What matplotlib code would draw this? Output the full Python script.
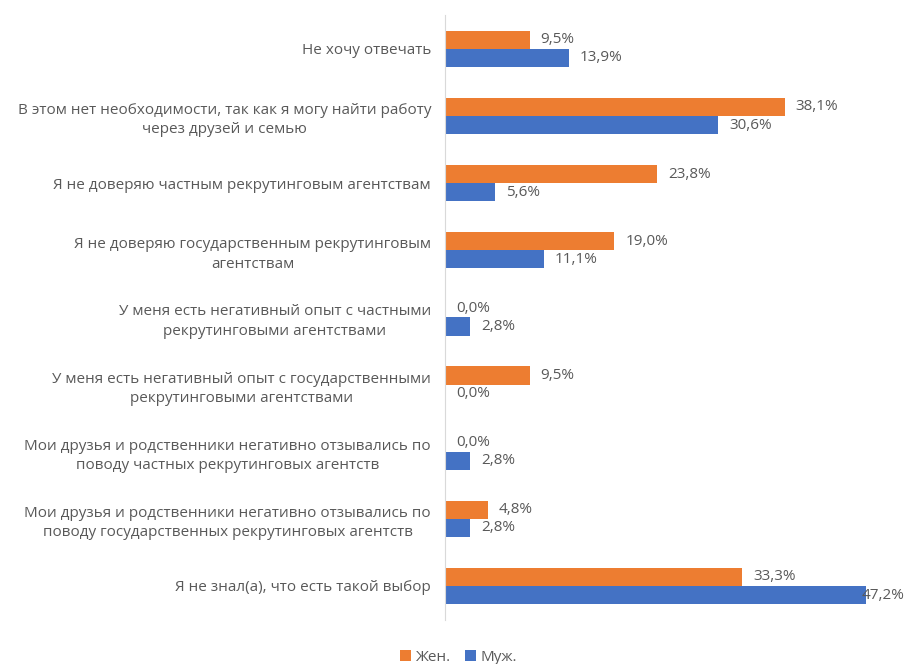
import numpy as np
import matplotlib.pyplot as plt

# Данные
kategorien = [
    "Не хочу отвечать",
    "В этом нет необходимости, так как я могу найти работу\nчерез друзей и семью",
    "Я не доверяю частным рекрутинговым агентствам",
    "Я не доверяю государственным рекрутинговым\nагентствам",
    "У меня есть негативный опыт с частными\nрекрутинговыми агентствами",
    "У меня есть негативный опыт с государственными\nрекрутинговыми агентствами",
    "Мои друзья и родственники негативно отзывались по\nповоду частных рекрутинговых агентств",
    "Мои друзья и родственники негативно отзывались по\nповоду государственных рекрутинговых агентств",
    "Я не знал(а), что есть такой выбор",
]
zhen = [9.5, 38.1, 23.8, 19.0, 0.0, 9.5, 0.0, 4.8, 33.3]
muzh = [13.9, 30.6, 5.6, 11.1, 2.8, 0.0, 2.8, 2.8, 47.2]

FARBE_ZHEN = '#ED7D31'
FARBE_MUZH = '#4472C4'
TEXT = '#595959'
FS = 11

plt.rcParams['font.family'] = ['Open Sans', 'DejaVu Sans']

fig = plt.figure(figsize=(9.08, 6.64), dpi=100)
ax = fig.add_axes([0.490, 0.067, 0.491, 0.910])

y = np.arange(len(kategorien))
h = 0.27
ax.barh(y - h / 2, zhen, height=h, color=FARBE_ZHEN, label='Жен.')
ax.barh(y + h / 2, muzh, height=h, color=FARBE_MUZH, label='Муж.')

ax.set_xlim(0, 50)
ax.set_ylim(len(kategorien) - 0.5, -0.5)

# Beschriftungen der Werte
def beschriften(werte, offset):
    for i, v in enumerate(werte):
        txt = f"{v:.1f}%".replace('.', ',')
        if v > 45:
            ax.annotate(txt, xy=(1.0, i + offset), xycoords=('axes fraction', 'data'),
                        xytext=(10, 0), textcoords='offset points', ha='right',
                        va='center', fontsize=FS, color=TEXT)
        else:
            ax.annotate(txt, xy=(v, i + offset), xytext=(8, 0),
                        textcoords='offset points', ha='left', va='center',
                        fontsize=FS, color=TEXT)

beschriften(zhen, -h / 2)
beschriften(muzh, h / 2)

ax.set_yticks(y)
ax.set_yticklabels(kategorien, fontsize=FS, color=TEXT, multialignment='center',
                   linespacing=1.4)
ax.tick_params(axis='y', length=0, pad=10)
ax.set_xticks([])

for s in ['top', 'right', 'bottom']:
    ax.spines[s].set_visible(False)
ax.spines['left'].set_color('#D9D9D9')

leg = fig.legend(loc='lower center', bbox_to_anchor=(0.505, -0.022), ncol=2,
                 frameon=False, fontsize=FS, handlelength=0.7, handleheight=0.7,
                 handletextpad=0.3, columnspacing=1.0)
for t in leg.get_texts():
    t.set_color(TEXT)

plt.savefig('out.png', dpi=100)
